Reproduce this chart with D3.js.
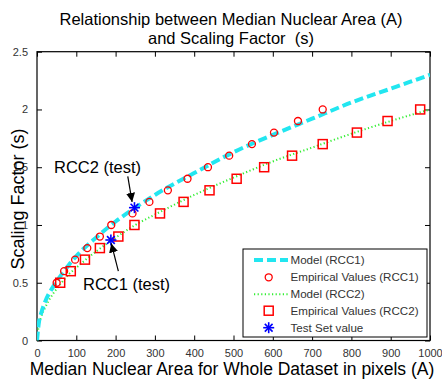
<!DOCTYPE html>
<html>
<head>
<meta charset="utf-8">
<script src="https://cdn.jsdelivr.net/npm/d3@7"></script>
<style>
  body { margin: 0; background: #fff; }
  svg { font-family: "Liberation Sans", Arial, sans-serif; }
</style>
</head>
<body>
<svg id="chart" width="442" height="383"></svg>
<script>
// model curves
const modelA = [0, 5, 10, 20, 40, 60, 80, 100, 150, 200, 250, 300, 400, 500, 600, 700, 800, 900, 1000];
const modelRCC1 = [0, 0.16, 0.23, 0.33, 0.46, 0.56, 0.65, 0.73, 0.89, 1.03, 1.15, 1.26, 1.45, 1.63, 1.78, 1.92, 2.06, 2.18, 2.30];
const modelRCC2 = [0, 0.14, 0.20, 0.28, 0.40, 0.49, 0.57, 0.63, 0.77, 0.89, 1.00, 1.09, 1.26, 1.41, 1.55, 1.67, 1.79, 1.90, 2.00];

// empirical values
const empS = [0.5, 0.6, 0.7, 0.8, 0.9, 1.0, 1.1, 1.2, 1.3, 1.4, 1.5, 1.6, 1.7, 1.8, 1.9, 2.0];
const empA_RCC1 = [50, 69, 97, 128, 160, 189, 243, 286, 333, 383, 435, 489, 547, 603, 664, 727];
const empA_RCC2 = [59, 86, 122, 160, 207, 248, 313, 373, 439, 508, 578, 649, 727, 814, 892, 975];

// test set values
const testA = [188, 248];
const testS = [0.87, 1.15];
const testLabels = ["RCC1 (test)", "RCC2 (test)"];

const xTicks = d3.range(0, 1001, 100);
const yTicks = [0, 0.5, 1, 1.5, 2, 2.5];

const svg = d3.select("#chart");
const L = 37, R = 430, T = 51.7, B = 340.5;

const x = d3.scaleLinear().domain([0, 1000]).range([L, R]);
const y = d3.scaleLinear().domain([0, 2.5]).range([B, T]);

const defs = svg.append("defs");
defs.append("clipPath").attr("id", "clip")
  .append("rect").attr("x", L).attr("y", T).attr("width", R - L).attr("height", B - T);
defs.append("marker")
  .attr("id", "arrow")
  .attr("viewBox", "0 0 10 10")
  .attr("refX", 10).attr("refY", 5)
  .attr("markerWidth", 9).attr("markerHeight", 9)
  .attr("markerUnits", "userSpaceOnUse")
  .attr("orient", "auto")
  .append("path").attr("d", "M0,0 L10,5 L0,10 Z").attr("fill", "#000");

// axes (MATLAB box with inward ticks)
const tickLen = 5;
svg.append("g").attr("transform", `translate(0,${B})`)
  .call(d3.axisBottom(x).tickValues(xTicks).tickSizeInner(-tickLen).tickSizeOuter(0).tickPadding(9).tickFormat(d3.format("d")))
  .call(g => g.select(".domain").remove());
svg.append("g").attr("transform", `translate(0,${T})`)
  .call(d3.axisTop(x).tickValues(xTicks).tickSizeInner(-tickLen).tickSizeOuter(0).tickFormat(""))
  .call(g => g.select(".domain").remove());
svg.append("g").attr("transform", `translate(${L},0)`)
  .call(d3.axisLeft(y).tickValues(yTicks).tickSizeInner(-tickLen).tickSizeOuter(0).tickPadding(9).tickFormat(d3.format("")))
  .call(g => g.select(".domain").remove());
svg.append("g").attr("transform", `translate(${R},0)`)
  .call(d3.axisRight(y).tickValues(yTicks).tickSizeInner(-tickLen).tickSizeOuter(0).tickFormat(""))
  .call(g => g.select(".domain").remove());
svg.selectAll(".tick text").attr("font-size", 11).attr("fill", "#333")
  .attr("font-family", "Liberation Sans, Arial, sans-serif");
svg.selectAll(".tick line").attr("stroke", "#000");

svg.append("rect").attr("x", L).attr("y", T).attr("width", R - L).attr("height", B - T)
  .attr("fill", "none").attr("stroke", "#000").attr("stroke-width", 1.2);

const plot = svg.append("g").attr("clip-path", "url(#clip)");
const line = d3.line().x(d => x(d[0])).y(d => y(d[1])).curve(d3.curveMonotoneX);

plot.append("path")
  .datum(d3.zip(modelA, modelRCC2))
  .attr("d", line)
  .attr("fill", "none").attr("stroke", "#33ee33").attr("stroke-width", 2)
  .attr("stroke-dasharray", "1.2,2.4");
plot.append("path")
  .datum(d3.zip(modelA, modelRCC1))
  .attr("d", line)
  .attr("fill", "none").attr("stroke", "#22e6f0").attr("stroke-width", 4)
  .attr("stroke-dasharray", "9,4");

plot.selectAll("circle.e1")
  .data(d3.zip(empA_RCC1, empS))
  .join("circle").attr("class", "e1")
  .attr("cx", d => x(d[0])).attr("cy", d => y(d[1])).attr("r", 3.5)
  .attr("fill", "none").attr("stroke", "#ff0000").attr("stroke-width", 1.3);

plot.selectAll("rect.e2")
  .data(d3.zip(empA_RCC2, empS))
  .join("rect").attr("class", "e2")
  .attr("x", d => x(d[0]) - 4.5).attr("y", d => y(d[1]) - 4.5)
  .attr("width", 9).attr("height", 9)
  .attr("fill", "none").attr("stroke", "#ff0000").attr("stroke-width", 1.5);

function star(g, cx, cy, r) {
  const s = g.append("g").attr("transform", `translate(${cx},${cy})`)
    .attr("stroke", "#0000ff").attr("stroke-width", 1.6);
  [0, 45, 90, 135].forEach(a => {
    const dx = r * Math.cos(a * Math.PI / 180), dy = r * Math.sin(a * Math.PI / 180);
    s.append("line").attr("x1", -dx).attr("y1", -dy).attr("x2", dx).attr("y2", dy);
  });
}
d3.zip(testA, testS).forEach(d => star(svg, x(d[0]), y(d[1]), 5.5));

// annotations
const arrows = [
  { label: testLabels[0], from: [207, 0.60], to: [189, 0.84], tx: 83, ty: 290 },
  { label: testLabels[1], from: [231, 1.42], to: [242, 1.20], tx: 54, ty: 173 }
];
arrows.forEach(a => {
  svg.append("line")
    .attr("x1", x(a.from[0])).attr("y1", y(a.from[1]))
    .attr("x2", x(a.to[0])).attr("y2", y(a.to[1]))
    .attr("stroke", "#000").attr("stroke-width", 1.2)
    .attr("marker-end", "url(#arrow)");
  svg.append("text").attr("x", a.tx).attr("y", a.ty)
    .attr("font-size", 16.5).attr("fill", "#000").text(a.label);
});

// legend
const leg = svg.append("g");
leg.append("rect").attr("x", 243).attr("y", 249).attr("width", 184).attr("height", 88)
  .attr("fill", "#fff").attr("stroke", "#000").attr("stroke-width", 1);
const legItems = ["Model (RCC1)", "Empirical Values (RCC1)", "Model (RCC2)", "Empirical Values (RCC2)", "Test Set value"];
const legY = [260, 277.3, 294.3, 310.7, 327.7];
legItems.forEach((t, i) => {
  leg.append("text").attr("x", 290.5).attr("y", legY[i] + 4)
    .attr("font-size", 11.6).attr("fill", "#333").text(t);
});
leg.append("line").attr("x1", 254).attr("x2", 288).attr("y1", legY[0]).attr("y2", legY[0])
  .attr("stroke", "#22e6f0").attr("stroke-width", 4).attr("stroke-dasharray", "9,4");
leg.append("circle").attr("cx", 268.7).attr("cy", legY[1]).attr("r", 3.5)
  .attr("fill", "none").attr("stroke", "#ff0000").attr("stroke-width", 1.3);
leg.append("line").attr("x1", 254).attr("x2", 288).attr("y1", legY[2]).attr("y2", legY[2])
  .attr("stroke", "#33ee33").attr("stroke-width", 2).attr("stroke-dasharray", "1.2,2.4");
leg.append("rect").attr("x", 268.7 - 4.5).attr("y", legY[3] - 4.5).attr("width", 9).attr("height", 9)
  .attr("fill", "none").attr("stroke", "#ff0000").attr("stroke-width", 1.5);
star(leg, 268.7, legY[4], 5.5);

// titles
svg.append("text").attr("x", 231).attr("y", 25).attr("text-anchor", "middle")
  .attr("font-size", 16.5).text("Relationship between Median Nuclear Area (A)");
svg.append("text").attr("x", 231).attr("y", 44).attr("text-anchor", "middle")
  .attr("font-size", 16.5).style("white-space", "pre").text("and Scaling Factor  (s)");
svg.append("text").attr("x", 232).attr("y", 375).attr("text-anchor", "middle")
  .attr("font-size", 17.5).text("Median Nuclear Area for Whole Dataset in pixels (A)");
svg.append("text").attr("transform", "translate(24,199) rotate(-90)").attr("text-anchor", "middle")
  .attr("font-size", 18).text("Scaling Factor (s)");
</script>
</body>
</html>
